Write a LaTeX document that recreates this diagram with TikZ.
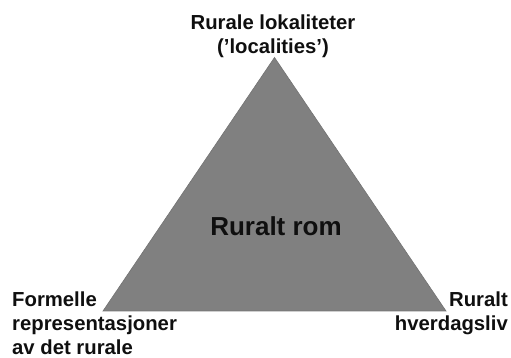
\documentclass[tikz,border=0pt]{standalone}
\usepackage{fontspec}
\setmainfont{Liberation Sans}
\usepackage{xcolor}
\definecolor{ruralGray}{RGB}{128, 128, 128}
\definecolor{ruralText}{RGB}{15, 15, 15}
\usepackage{tikz}
\usetikzlibrary{positioning}

\begin{document}
\begin{tikzpicture}[x=1pt, y=1pt,
  corner/.style={font=\bfseries\fontsize{20.3}{23.8}\selectfont, text=ruralText,
                 inner sep=0pt},
  centre/.style={font=\bfseries\fontsize{26}{30}\selectfont, text=ruralText,
                 inner sep=0pt},
  tri/.style={fill=ruralGray, draw=ruralGray!90!black, line width=0.6pt},
]
  \useasboundingbox (0,0) rectangle (511,358);

  \coordinate (apex) at (274.5,300.5);
  \coordinate (left) at (103,47);
  \coordinate (right) at (446,47);

  \filldraw[tri] (apex) -- (left) -- (right) -- cycle;

  \node[centre] (rom) at (276,132) {Ruralt rom};

  \node[corner, align=center, anchor=north] (lokal) at (273,343)
    {Rurale lokaliteter\\('localities')};

  \node[corner, align=left, anchor=north west] (formell) at (12,66)
    {Formelle\\representasjoner\\av det rurale};

  \node[corner, align=right, anchor=north east] (hverdag) at (508,66)
    {Ruralt\\hverdagsliv};
\end{tikzpicture}
\end{document}
